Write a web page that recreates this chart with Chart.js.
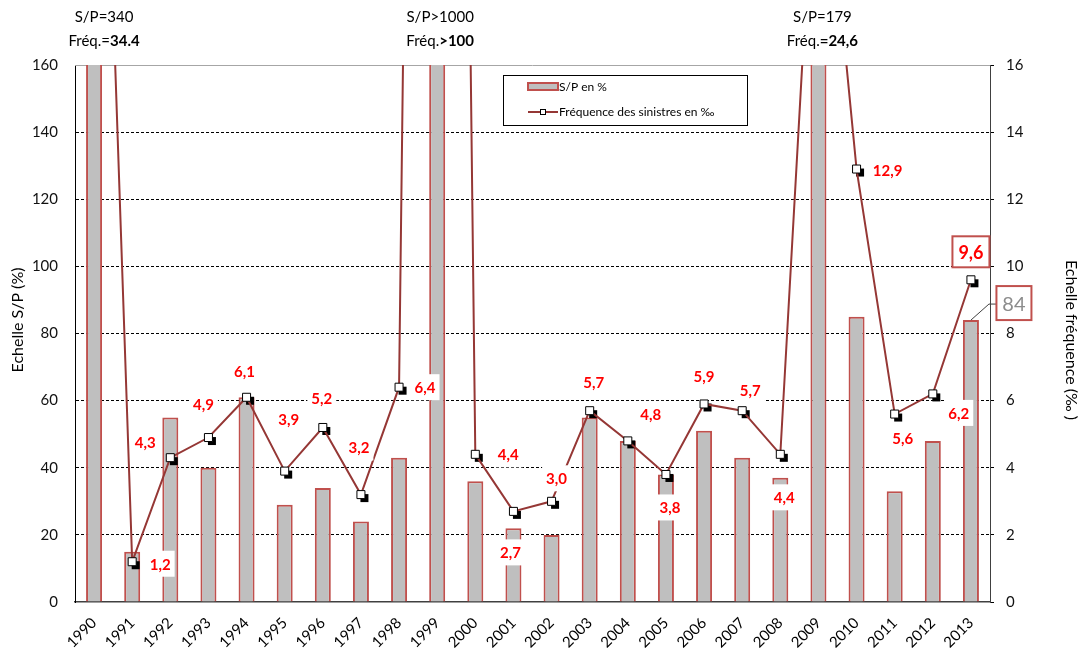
<!DOCTYPE html>
<html>
<head>
<meta charset="utf-8">
<script src="https://cdn.jsdelivr.net/npm/chart.js@4"></script>
<style>
  body { margin: 0; background: #fff; }
  canvas { display: block; }
</style>
</head>
<body>
<canvas id="chart" width="1084" height="653"></canvas>
<script>
// ----------------- DATA -----------------
const years = ["1990", "1991", "1992", "1993", "1994", "1995", "1996", "1997", "1998", "1999", "2000", "2001",
  "2002", "2003", "2004", "2005", "2006", "2007", "2008", "2009", "2010", "2011", "2012", "2013"];

// S/P en % (1990 = 340, 1999 > 1000, 2009 = 179 : hors échelle)
const spValues = [340, 15, 55, 40, 61, 29, 34, 24, 43, 1000, 36, 22, 20, 55, 48, 38, 51, 43, 37, 179, 85, 33, 48, 84];

// Fréquence des sinistres en ‰ (1990 = 34.4, 1999 > 100, 2009 = 24,6)
const freqValues = [34.4, 1.2, 4.3, 4.9, 6.1, 3.9, 5.2, 3.2, 6.4, 100, 4.4, 2.7, 3.0, 5.7, 4.8, 3.8, 5.9, 5.7, 4.4, 24.6, 12.9, 5.6, 6.2, 9.6];

const spTicks = [0, 20, 40, 60, 80, 100, 120, 140, 160];
const freqTicks = [0, 2, 4, 6, 8, 10, 12, 14, 16];

// valeurs hors échelle écrites au-dessus du graphique
const topNotes = [
  { year: "1990", sp: "S/P=340", freqPrefix: "Fréq.=", freqBold: "34.4" },
  { year: "1999", sp: "S/P>1000", freqPrefix: "Fréq.", freqBold: ">100" },
  { year: "2009", sp: "S/P=179", freqPrefix: "Fréq.", freqBold: "=24,6" }
];

// ----------------- STYLE -----------------
const FONT = 'Lato, "Open Sans", sans-serif';
const BAR_FILL = "#bfbfbf";
const BAR_BORDER = "#c0504d";
const LINE_COLOR = "#953735";
const LABEL_RED = "#ff0000";

// décalage (px) des étiquettes de fréquence par rapport au point, null = pas d'étiquette
const labelOffsets = [null, [28, 2], [-25, -16], [-5, -33], [-2, -26], [4, -52], [-1, -29], [-2, -47], [26, 0], null,
  [33, 0], [-3, 41], [5, -23], [4, -29], [23, -27], [4, 33], [0, -28], [8, -21], [4, 43], null, [31, 1], [8, 24], [26, 19], null];
const noteOffsets = { "1990": 10, "1999": 3, "2009": 4 };

Chart.defaults.font.family = FONT;
Chart.defaults.color = "#000";

function fmt(v) {
  return v.toFixed(1).replace(".", ",");
}

function boxedText(ctx, text, cx, cy, font, color, border, w, h) {
  ctx.font = font;
  const tw = ctx.measureText(text).width;
  const bw = w || tw + 8;
  const bh = h || 26;
  ctx.fillStyle = "#fff";
  ctx.fillRect(cx - bw / 2, cy - bh / 2, bw, bh);
  if (border) {
    ctx.strokeStyle = border;
    ctx.lineWidth = 2;
    ctx.strokeRect(cx - bw / 2, cy - bh / 2, bw, bh);
  }
  ctx.fillStyle = color;
  ctx.textAlign = "center";
  ctx.textBaseline = "middle";
  ctx.fillText(text, cx, cy + 1);
}

// ----------------- PLUGIN -----------------
const extras = {
  id: "extras",
  beforeDatasetsDraw(chart) {
    const { ctx, chartArea: a } = chart;
    ctx.save();
    ctx.strokeStyle = "#a6a6a6";
    ctx.lineWidth = 1;
    ctx.beginPath();
    ctx.moveTo(a.left, a.top + 0.5);
    ctx.lineTo(a.right, a.top + 0.5);
    ctx.stroke();
    ctx.restore();
  },
  beforeDatasetDraw(chart, args) {
    if (args.index !== 0) return;
    // ombre noire des marqueurs
    const { ctx, chartArea: a } = chart;
    ctx.save();
    ctx.beginPath();
    ctx.rect(a.left, a.top, a.right - a.left, a.bottom - a.top);
    ctx.clip();
    ctx.fillStyle = "#000";
    args.meta.data.forEach(p => ctx.fillRect(p.x - 4 + 3.5, p.y - 4 + 3.5, 8, 8));
    ctx.restore();
  },
  afterDatasetsDraw(chart) {
    const { ctx } = chart;
    const x = chart.scales.x, y = chart.scales.y, y1 = chart.scales.y1;
    const pts = chart.getDatasetMeta(0).data;
    ctx.save();

    // étiquettes de fréquence
    pts.forEach((p, i) => {
      const off = labelOffsets[i];
      if (!off) return;
      boxedText(ctx, fmt(freqValues[i]), p.x + off[0], p.y + off[1], "bold 15px " + FONT, LABEL_RED);
    });

    // 2013 : étiquettes encadrées
    const last = years.length - 1;
    const px = x.getPixelForValue(last);
    boxedText(ctx, fmt(freqValues[last]), px, y1.getPixelForValue(freqValues[last]) - 28,
      "bold 18px " + FONT, LABEL_RED, BAR_BORDER, 37, 31);
    const barTop = y.getPixelForValue(spValues[last]);
    ctx.strokeStyle = "#404040";
    ctx.lineWidth = 1;
    ctx.beginPath();
    ctx.moveTo(px, barTop);
    ctx.lineTo(px + 18, barTop - 16);
    ctx.lineTo(px + 26, barTop - 16);
    ctx.stroke();
    boxedText(ctx, String(spValues[last]), px + 43, barTop - 17, "20px " + FONT, "#8c8c8c", BAR_BORDER, 35, 34);

    // notes au-dessus du graphique
    topNotes.forEach(n => {
      const cx = x.getPixelForValue(years.indexOf(n.year)) + noteOffsets[n.year];
      ctx.fillStyle = "#000";
      ctx.textBaseline = "middle";
      ctx.textAlign = "center";
      ctx.font = "15px " + FONT;
      ctx.fillText(n.sp, cx, 17);
      const w1 = ctx.measureText(n.freqPrefix).width;
      ctx.font = "bold 15px " + FONT;
      const w2 = ctx.measureText(n.freqBold).width;
      const start = cx - (w1 + w2) / 2;
      ctx.textAlign = "left";
      ctx.font = "15px " + FONT;
      ctx.fillText(n.freqPrefix, start, 41);
      ctx.font = "bold 15px " + FONT;
      ctx.fillText(n.freqBold, start + w1, 41);
    });

    // légende
    ctx.fillStyle = "#fff";
    ctx.fillRect(503, 75, 244, 50);
    ctx.strokeStyle = "#000";
    ctx.lineWidth = 1;
    ctx.strokeRect(503.5, 75.5, 244, 50);
    ctx.fillStyle = BAR_FILL;
    ctx.fillRect(528, 83, 30, 7);
    ctx.strokeStyle = BAR_BORDER;
    ctx.lineWidth = 2;
    ctx.strokeRect(528, 83, 30, 7);
    ctx.strokeStyle = LINE_COLOR;
    ctx.beginPath();
    ctx.moveTo(528, 112);
    ctx.lineTo(558, 112);
    ctx.stroke();
    ctx.fillStyle = "#fff";
    ctx.fillRect(540.5, 109.5, 5, 5);
    ctx.strokeStyle = "#000";
    ctx.lineWidth = 1;
    ctx.strokeRect(540.5, 109.5, 5, 5);
    ctx.fillStyle = "#000";
    ctx.font = "12px " + FONT;
    ctx.textAlign = "left";
    ctx.textBaseline = "middle";
    ctx.fillText("S/P en %", 559, 87);
    ctx.fillText("Fréquence des sinistres en ‰", 559, 112);

    // titres des axes
    ctx.font = "16px " + FONT;
    ctx.textAlign = "center";
    ctx.save();
    ctx.translate(18, 320);
    ctx.rotate(-Math.PI / 2);
    ctx.fillText("Echelle S/P (%)", 0, 0);
    ctx.restore();
    ctx.save();
    ctx.translate(1071, 340);
    ctx.rotate(Math.PI / 2);
    ctx.fillText("Echelle fréquence (‰ )", 0, 0);
    ctx.restore();

    ctx.restore();
  }
};

// ----------------- CHART -----------------
new Chart(document.getElementById("chart").getContext("2d"), {
  type: "bar",
  data: {
    labels: years,
    datasets: [{
      type: "line",
      label: "Fréquence des sinistres en ‰",
      data: freqValues,
      yAxisID: "y1",
      order: 0,
      borderColor: LINE_COLOR,
      borderWidth: 2,
      tension: 0,
      pointStyle: "rect",
      pointRadius: 5.66,
      pointBackgroundColor: "#fff",
      pointBorderColor: "#000",
      pointBorderWidth: 1,
      clip: 0
    }, {
      type: "bar",
      label: "S/P en %",
      data: spValues,
      yAxisID: "y",
      order: 1,
      backgroundColor: BAR_FILL,
      borderColor: BAR_BORDER,
      borderWidth: 2,
      categoryPercentage: 1,
      barPercentage: 0.42,
      clip: 0
    }]
  },
  options: {
    responsive: false,
    animation: false,
    layout: { padding: { top: 65, left: 0, right: 0, bottom: 0 } },
    plugins: {
      legend: { display: false },
      tooltip: { enabled: false }
    },
    scales: {
      x: {
        grid: { display: false },
        border: { color: "#404040", width: 1.5 },
        ticks: { font: { size: 15 }, minRotation: 45, maxRotation: 45, padding: 4, color: "#000" },
        afterFit: s => { s.height = 51; }
      },
      y: {
        position: "left",
        min: spTicks[0],
        max: spTicks[spTicks.length - 1],
        afterBuildTicks: s => { s.ticks = spTicks.map(v => ({ value: v })); },
        ticks: { font: { size: 15 }, padding: 17, color: "#111" },
        grid: {
          drawTicks: false,
          color: c => (c.tick.value === 0 || c.tick.value === 160) ? "rgba(0,0,0,0)" : "#000",
          lineWidth: 1
        },
        border: { color: "#000", width: 1, dash: [3, 2] },
        afterFit: s => { s.width = 75; }
      },
      y1: {
        position: "right",
        min: freqTicks[0],
        max: freqTicks[freqTicks.length - 1],
        afterBuildTicks: s => { s.ticks = freqTicks.map(v => ({ value: v })); },
        ticks: { font: { size: 15 }, padding: 12, color: "#111" },
        grid: { drawOnChartArea: false, tickLength: 4, color: "#000" },
        border: { color: "#404040", width: 1 },
        afterFit: s => { s.width = 94; }
      }
    }
  },
  plugins: [extras]
});
</script>
</body>
</html>
